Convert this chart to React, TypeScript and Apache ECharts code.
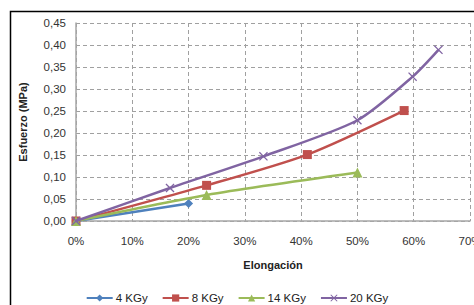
import React, { useEffect, useRef } from "react";
import * as echarts from "echarts";

const seriesNames = ["4 KGy", "8 KGy", "14 KGy", "20 KGy"];
const x4 = [0, 0.2];
const y4 = [0, 0.04];
const x8 = [0, 0.232, 0.411, 0.583];
const y8 = [0, 0.081, 0.151, 0.251];
const x14 = [0, 0.232, 0.5];
const y14 = [0, 0.059, 0.11];
const x20 = [0, 0.167, 0.333, 0.5, 0.598, 0.644];
const y20 = [0, 0.075, 0.147, 0.229, 0.328, 0.389];
const colors = ["#4F81BD", "#C0504D", "#9BBB59", "#8064A2"];

const xSymbol = "path://M0,1L1,0L5,4L9,0L10,1L6,5L10,9L9,10L5,6L1,10L0,9L4,5Z";

const pair = (xs: number[], ys: number[]) => xs.map((v, i) => [v, ys[i]]);

export default function App() {
  const ref = useRef<HTMLDivElement>(null);
  useEffect(() => {
    const chart = echarts.init(ref.current!, undefined, { renderer: "svg" });
    const font = "Arial, 'Liberation Sans', sans-serif";
    const symbols = ["diamond", "rect", "triangle", xSymbol];
    const sizes = [9, 9, 10, 9];
    const data = [pair(x4, y4), pair(x8, y8), pair(x14, y14), pair(x20, y20)];
    chart.setOption({
      animation: false,
      color: colors,
      graphic: [
        {
          type: "rect",
          shape: { x: 10.5, y: 11.5, width: 480, height: 310 },
          style: { fill: "none", stroke: "#000", lineWidth: 1.5 },
          z: 0,
        },
      ],
      grid: { left: 76, right: 4, top: 23, bottom: 84, outerBoundsMode: "none", containLabel: false },
      legend: {
        top: 292,
        left: "center",
        itemWidth: 26,
        itemHeight: 9,
        itemGap: 14,
        padding: 0,
        textStyle: { fontFamily: font, fontSize: 11.5, color: "#222", padding: [0, 0, 0, -2] },
        data: seriesNames,
      },
      xAxis: {
        type: "value",
        min: 0,
        max: 0.7,
        interval: 0.1,
        name: "Elongación",
        nameLocation: "middle",
        nameGap: 38,
        nameTextStyle: { fontFamily: font, fontSize: 11, fontWeight: "bold", color: "#222" },
        axisLine: { lineStyle: { color: "#a6a6a6", width: 1.5 } },
        axisTick: { show: false },
        axisLabel: {
          margin: 14,
          fontFamily: font,
          fontSize: 11.5,
          color: "#333",
          formatter: (v: number) => Math.round(v * 100) + "%",
        },
        splitLine: { lineStyle: { color: "#a0a0a0", type: [4, 3] } },
      },
      yAxis: {
        type: "value",
        min: 0,
        max: 0.45,
        interval: 0.05,
        name: "Esfuerzo (MPa)",
        nameLocation: "middle",
        nameGap: 48,
        nameTextStyle: { fontFamily: font, fontSize: 11, fontWeight: "bold", color: "#222" },
        axisLine: { show: true, lineStyle: { color: "#a6a6a6", width: 1.5 } },
        axisTick: { show: false },
        axisLabel: {
          margin: 10,
          fontFamily: font,
          fontSize: 11.5,
          color: "#333",
          formatter: (v: number) => v.toFixed(2).replace(".", ","),
        },
        splitLine: { lineStyle: { color: "#a0a0a0", type: [4, 3] } },
      },
      series: seriesNames.map((n, i) => ({
        name: n,
        type: "line",
        data: data[i],
        smooth: 0.25,
        symbol: symbols[i],
        symbolSize: sizes[i],
        showAllSymbol: true,
        lineStyle: { width: 2.5, color: colors[i] },
        itemStyle: { color: colors[i] },
        z: 2 + i,
      })),
    });
    return () => chart.dispose();
  }, []);
  return (
    <div
      ref={ref}
      style={{ position: "fixed", left: 0, top: 0, width: 474, height: 305, background: "#fff" }}
    />
  );
}
